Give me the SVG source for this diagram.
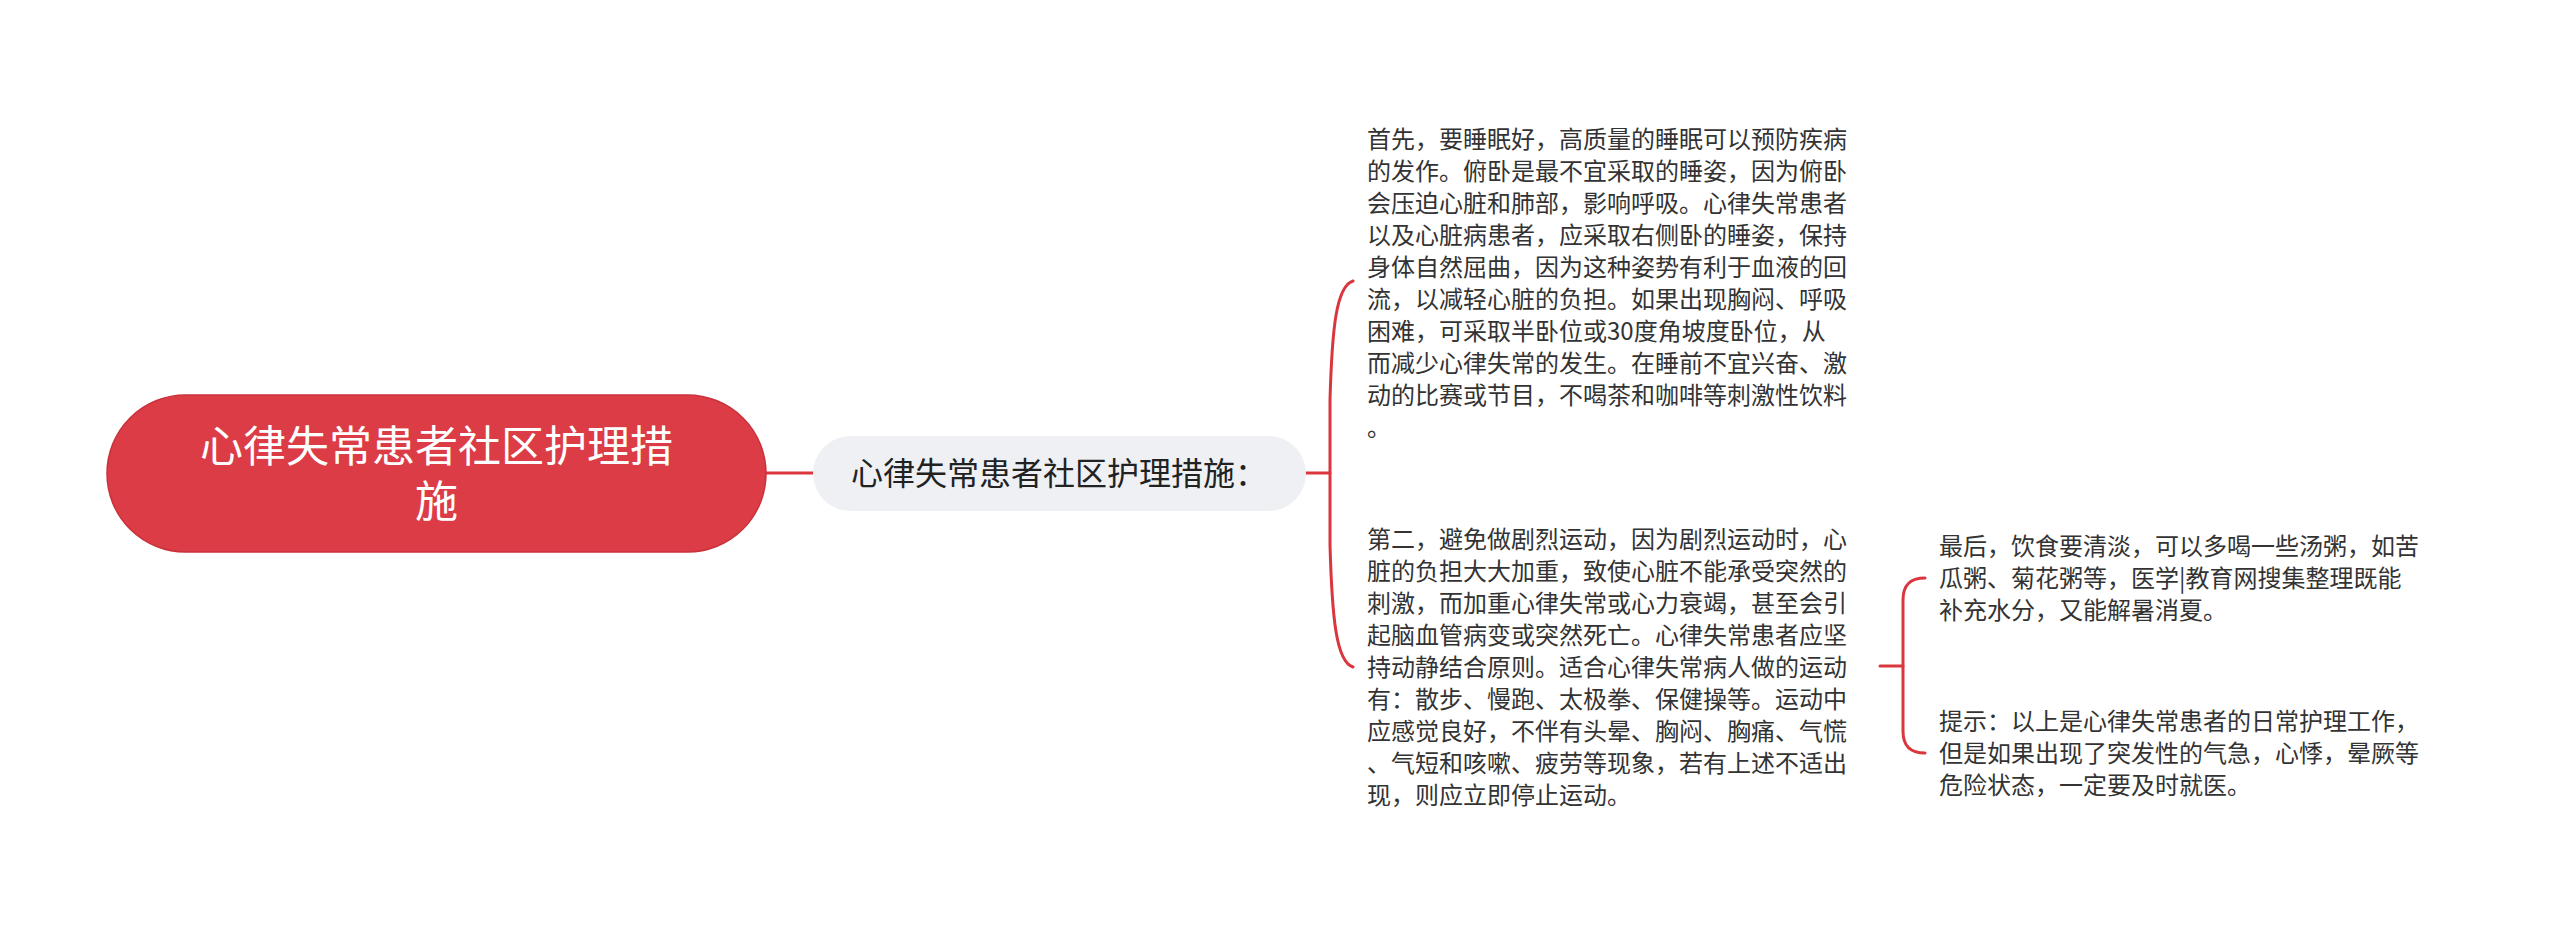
<svg xmlns="http://www.w3.org/2000/svg" width="2560" height="931" viewBox="0 0 2560 931">
<style>
.t{font-family:"Noto Sans CJK SC","Noto Sans",sans-serif;fill:#333333;font-size:24px}
.root{font-family:"Noto Sans CJK SC","Noto Sans",sans-serif;fill:#ffffff;font-size:43px}
.l1{font-family:"Noto Sans CJK SC","Noto Sans",sans-serif;fill:#222222;font-size:32px}
.c{fill:none;stroke:#d9363e;stroke-width:3;stroke-linecap:round}
</style>
<rect width="2560" height="931" fill="#ffffff"/>
<g id="connectors">
<path class="c" d="M766,473 L813,473"/>
<path class="c" d="M1306,473 L1330,473"/>
<path class="c" d="M1353,281 C1336,286 1332,330 1330,400 L1330,545 C1332,616 1336,662 1353,667"/>
<path class="c" d="M1880,666 L1903,666"/>
<path class="c" d="M1925,578 C1910,578 1903,585 1903,600 L1903,731 C1903,746 1910,753 1925,753"/>
</g>
<g id="root">
<rect x="107" y="395" width="659" height="157" rx="78.5" fill="#dc3c45" stroke="#c9323b" stroke-width="1.5"/>
<text class="root" x="436.5" y="462" text-anchor="middle">心律失常患者社区护理措</text>
<text class="root" x="436.5" y="517" text-anchor="middle">施</text>
</g>
<g id="n1">
<rect x="813" y="436" width="493" height="75" rx="37.5" fill="#eef0f3"/>
<text class="l1" x="851" y="485">心律失常患者社区护理措施：</text>
</g>
<g id="n2">
<text class="t" x="1367" y="148">首先，要睡眠好，高质量的睡眠可以预防疾病</text>
<text class="t" x="1367" y="180">的发作。俯卧是最不宜采取的睡姿，因为俯卧</text>
<text class="t" x="1367" y="212">会压迫心脏和肺部，影响呼吸。心律失常患者</text>
<text class="t" x="1367" y="244">以及心脏病患者，应采取右侧卧的睡姿，保持</text>
<text class="t" x="1367" y="276">身体自然屈曲，因为这种姿势有利于血液的回</text>
<text class="t" x="1367" y="308">流，以减轻心脏的负担。如果出现胸闷、呼吸</text>
<text class="t" x="1367" y="340">困难，可采取半卧位或30度角坡度卧位，从</text>
<text class="t" x="1367" y="372">而减少心律失常的发生。在睡前不宜兴奋、激</text>
<text class="t" x="1367" y="404">动的比赛或节目，不喝茶和咖啡等刺激性饮料</text>
<text class="t" x="1367" y="436">。</text>
</g>
<g id="n3">
<text class="t" x="1367" y="548">第二，避免做剧烈运动，因为剧烈运动时，心</text>
<text class="t" x="1367" y="580">脏的负担大大加重，致使心脏不能承受突然的</text>
<text class="t" x="1367" y="612">刺激，而加重心律失常或心力衰竭，甚至会引</text>
<text class="t" x="1367" y="644">起脑血管病变或突然死亡。心律失常患者应坚</text>
<text class="t" x="1367" y="676">持动静结合原则。适合心律失常病人做的运动</text>
<text class="t" x="1367" y="708">有：散步、慢跑、太极拳、保健操等。运动中</text>
<text class="t" x="1367" y="740">应感觉良好，不伴有头晕、胸闷、胸痛、气慌</text>
<text class="t" x="1367" y="772">、气短和咳嗽、疲劳等现象，若有上述不适出</text>
<text class="t" x="1367" y="804">现，则应立即停止运动。</text>
</g>
<g id="n4">
<text class="t" x="1939" y="555">最后，饮食要清淡，可以多喝一些汤粥，如苦</text>
<text class="t" x="1939" y="587">瓜粥、菊花粥等，医学|教育网搜集整理既能</text>
<text class="t" x="1939" y="619">补充水分，又能解暑消夏。</text>
</g>
<g id="n5">
<text class="t" x="1939" y="730">提示：以上是心律失常患者的日常护理工作，</text>
<text class="t" x="1939" y="762">但是如果出现了突发性的气急，心悸，晕厥等</text>
<text class="t" x="1939" y="794">危险状态，一定要及时就医。</text>
</g>
</svg>
